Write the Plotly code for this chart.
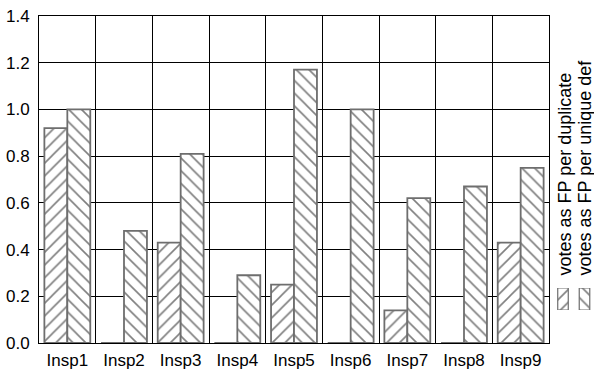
import plotly.graph_objects as go

inspectors = ["Insp1", "Insp2", "Insp3", "Insp4", "Insp5", "Insp6", "Insp7", "Insp8", "Insp9"]
fp_per_duplicate = [0.92, 0, 0.43, 0, 0.25, 0, 0.14, 0, 0.43]
fp_per_unique_def = [1.0, 0.48, 0.81, 0.29, 1.17, 1.0, 0.62, 0.67, 0.75]
series_names = ["votes as FP per duplicate", "votes as FP per unique def"]
hatches = ["/", "\\"]
y_ticks = [0.0, 0.2, 0.4, 0.6, 0.8, 1.0, 1.2, 1.4]

FONT = "Liberation Sans, Arial, Helvetica, sans-serif"
W, H = 594, 374
L, R, T, B = 39, 2, 16, 31
plot_w = W - L - R
plot_h = H - T - B
main_right = 549  # right edge of the bar panel, px


def px_x(px):
    return (px - L) / plot_w


def px_y(py):
    return (H - B - py) / plot_h


def hatch(shape):
    return dict(shape=shape, fgcolor="black", bgcolor="white", size=9, solidity=0.18)


x_idx = list(range(len(inspectors)))
bar_line = dict(color="#6e6e6e", width=1.8)

fig = go.Figure()
for name, vals, shape in zip(series_names, [fp_per_duplicate, fp_per_unique_def], hatches):
    fig.add_trace(go.Bar(
        x=x_idx, y=vals, name=name, showlegend=False,
        marker=dict(color="white", line=bar_line, pattern=hatch(shape)),
    ))

# legend swatches drawn as a tiny bar panel at the right
for i, shape in enumerate(hatches):
    fig.add_trace(go.Bar(
        x=[i], y=[1], xaxis="x2", yaxis="y2", width=0.49, showlegend=False,
        marker=dict(color="white", line=dict(color="#6e6e6e", width=1.2), pattern=hatch(shape)),
    ))

fig.update_layout(
    width=W, height=H,
    margin=dict(l=L, r=R, t=T, b=B, pad=0),
    paper_bgcolor="white", plot_bgcolor="white",
    barmode="group", bargap=0.19, bargroupgap=0,
    font=dict(family=FONT, size=17, color="black"),
    xaxis=dict(
        domain=[0, px_x(main_right)],
        range=[-0.5, len(inspectors) - 0.5],
        tickvals=x_idx, ticktext=inspectors,
        showgrid=False, zeroline=False,
        showline=True, linecolor="black", linewidth=1, mirror=True,
        ticks="outside", ticklen=2, tickcolor="rgba(0,0,0,0)",
        minor=dict(tickvals=[i + 0.5 for i in x_idx[:-1]], showgrid=True,
                   gridcolor="black", gridwidth=1),
        tickfont=dict(size=17),
    ),
    yaxis=dict(
        range=[0, 1.4], tickvals=y_ticks,
        ticktext=[f"{v:.1f}" for v in y_ticks],
        showgrid=True, gridcolor="black", gridwidth=1,
        zeroline=False,
        showline=True, linecolor="black", linewidth=1, mirror=True,
        ticks="outside", ticklen=5, tickcolor="rgba(0,0,0,0)",
        tickfont=dict(size=17),
    ),
    xaxis2=dict(domain=[px_x(557), px_x(591)], range=[-0.279, 1.302], anchor="y2",
                visible=False, fixedrange=True),
    yaxis2=dict(domain=[px_y(310), px_y(288)], range=[0, 1], anchor="x2",
                visible=False, fixedrange=True),
)

for name, cx in zip(series_names, [564, 584.5]):
    fig.add_annotation(
        text=name, textangle=-90, showarrow=False,
        xref="paper", yref="paper", x=px_x(cx), y=px_y(278),
        xanchor="center", yanchor="bottom",
        font=dict(family=FONT, size=18, color="black"),
    )

fig.write_html("out.html")
